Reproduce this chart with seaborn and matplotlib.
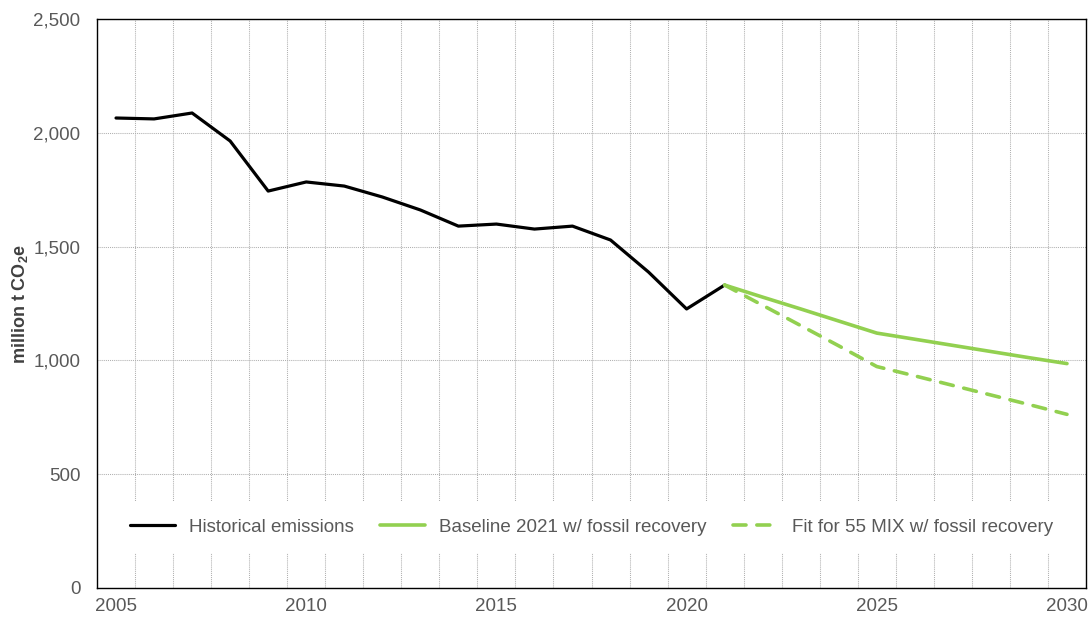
import pandas as pd
import matplotlib
matplotlib.use("Agg")
import matplotlib.pyplot as plt
from matplotlib.ticker import FuncFormatter, MultipleLocator
import seaborn as sns

# Data
hist_years = list(range(2005, 2022))
hist_values = [2065, 2061, 2087, 1964, 1744, 1784, 1766, 1718, 1661,
               1590, 1599, 1577, 1590, 1529, 1388, 1226, 1331]

proj_years = list(range(2021, 2031))
baseline_values = [1331, 1278, 1226, 1173, 1120, 1093, 1066, 1039, 1012, 986]
fit55_values = [1331, 1242, 1153, 1064, 973, 932, 890, 848, 806, 763]

sns.set_theme(style="white")
plt.rcParams['font.family'] = ['Liberation Sans', 'DejaVu Sans']
plt.rcParams['mathtext.fontset'] = 'custom'
plt.rcParams['mathtext.rm'] = 'Liberation Sans'
plt.rcParams['mathtext.bf'] = 'Liberation Sans:bold'

GREEN = '#92D050'
GREY_TXT = '#595959'

df_hist = pd.DataFrame({'year': hist_years, 'value': hist_values})
df_base = pd.DataFrame({'year': proj_years, 'value': baseline_values})
df_fit = pd.DataFrame({'year': proj_years, 'value': fit55_values})

fig = plt.figure(figsize=(10.89, 6.18), dpi=100)
ax = fig.add_axes([97 / 1089, 1 - 588 / 618, (1086 - 97) / 1089, (588 - 19) / 618])

sns.lineplot(data=df_hist, x='year', y='value', ax=ax, color='black',
             linewidth=2.3, label='Historical emissions')
sns.lineplot(data=df_base, x='year', y='value', ax=ax, color=GREEN,
             linewidth=2.6, label='Baseline 2021 w/ fossil recovery')
sns.lineplot(data=df_fit, x='year', y='value', ax=ax, color=GREEN,
             linewidth=2.6, label='Fit for 55 MIX w/ fossil recovery')
ax.lines[2].set_dashes((3.6, 3.0))
ax.lines[2].set_dash_capstyle('round')

ax.set_xlim(2004.5, 2030.5)
ax.set_ylim(0, 2500)
ax.xaxis.set_major_locator(MultipleLocator(5))
ax.xaxis.set_minor_locator(MultipleLocator(1, offset=0.5))
ax.yaxis.set_major_locator(MultipleLocator(500))
ax.yaxis.set_major_formatter(FuncFormatter(lambda v, p: f'{int(v):,}'))

# dotted light-grey grid, vertical lines between the years
ax.grid(which='minor', axis='x', color='#b0b0b0', linestyle=(0, (1, 1)), linewidth=0.75)
ax.grid(which='major', axis='y', color='#b0b0b0', linestyle=(0, (1, 1)), linewidth=0.75)
ax.grid(which='major', axis='x', visible=False)
ax.set_axisbelow(True)

ax.tick_params(axis='both', which='both', length=0, labelsize=13.5, labelcolor=GREY_TXT)
ax.tick_params(axis='y', pad=12)
ax.tick_params(axis='x', pad=7)

for s in ax.spines.values():
    s.set_color('black')
    s.set_linewidth(1.0)

ax.set_xlabel('')
ax.set_ylabel(r'million t CO$_\mathbf{2}$e', fontsize=13, fontweight='bold',
              color='#404040', labelpad=2)

leg = ax.legend(loc='center', bbox_to_anchor=(0.5, 0.107), ncol=3, fontsize=13.5,
                frameon=True, facecolor='white', edgecolor='none', framealpha=1,
                handlelength=2.4, handletextpad=0.75, columnspacing=1.4,
                borderpad=0.9, borderaxespad=0)
for t in leg.get_texts():
    t.set_color(GREY_TXT)

fig.savefig('out.png', dpi=100)
